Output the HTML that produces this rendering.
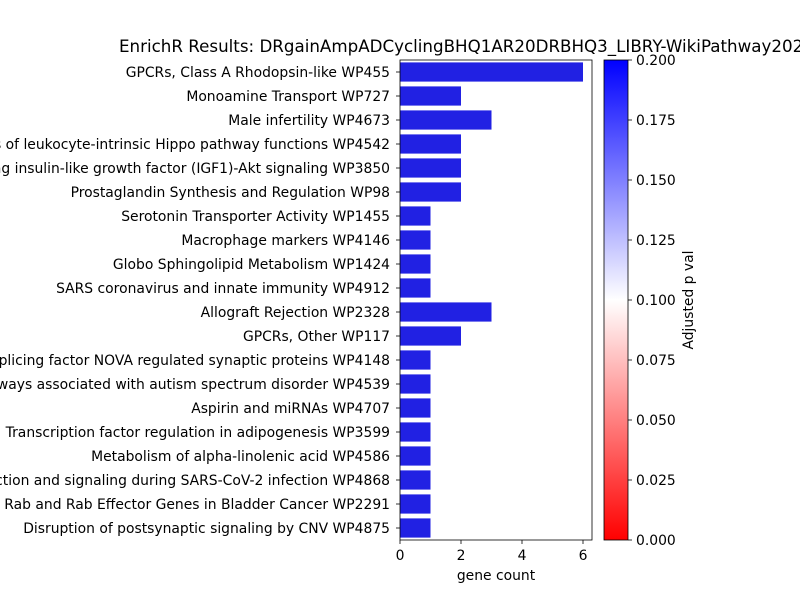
<!DOCTYPE html>
<html><head><meta charset="utf-8"><style>body{margin:0;background:#fff;overflow:hidden}svg{font-family:"DejaVu Sans","Liberation Sans",sans-serif}</style></head>
<body>
<svg id="c" width="800" height="600" viewBox="0 0 800 600">
<defs><linearGradient id="g" x1="0" y1="1" x2="0" y2="0"><stop offset="0" stop-color="#ff0000"/><stop offset="0.5" stop-color="#ffffff"/><stop offset="1" stop-color="#0000ff"/></linearGradient></defs>
<text x="119" y="52" font-size="16.7">EnrichR Results: DRgainAmpADCyclingBHQ1AR20DRBHQ3_LIBRY-WikiPathway2021</text>
<g id="bars"></g><g id="ylab"></g><g id="xt"></g>
<rect x="400" y="60" width="192" height="480" fill="none" stroke="#000" stroke-width="0.8"/>
<text x="496" y="580" font-size="13.9" text-anchor="middle">gene count</text>
<rect x="604" y="60" width="24" height="480" fill="url(#g)" stroke="#000" stroke-width="0.8"/>
<g id="ct"></g>
<text transform="translate(693,300) rotate(-90)" font-size="13.9" text-anchor="middle">Adjusted p val</text>
</svg>
<script>
const categories=["GPCRs, Class A Rhodopsin-like WP455","Monoamine Transport WP727","Male infertility WP4673","Modulators of leukocyte-intrinsic Hippo pathway functions WP4542","Regulation of signaling insulin-like growth factor (IGF1)-Akt signaling WP3850","Prostaglandin Synthesis and Regulation WP98","Serotonin Transporter Activity WP1455","Macrophage markers WP4146","Globo Sphingolipid Metabolism WP1424","SARS coronavirus and innate immunity WP4912","Allograft Rejection WP2328","GPCRs, Other WP117","Splicing factor NOVA regulated synaptic proteins WP4148","Pathways associated with autism spectrum disorder WP4539","Aspirin and miRNAs WP4707","Transcription factor regulation in adipogenesis WP3599","Metabolism of alpha-linolenic acid WP4586","Interaction and signaling during SARS-CoV-2 infection WP4868","Rab and Rab Effector Genes in Bladder Cancer WP2291","Disruption of postsynaptic signaling by CNV WP4875"];
const counts=[6,2,3,2,2,2,1,1,1,1,3,2,1,1,1,1,1,1,1,1];
const xTicks=[0,2,4,6];
const cTicks=["0.000","0.025","0.050","0.075","0.100","0.125","0.150","0.175","0.200"];
const NS="http://www.w3.org/2000/svg";
const x=v=>400+v*30.5, band=24, y=i=>60+i*band;
function mk(t,a,p){const e=document.createElementNS(NS,t);for(const k in a)e.setAttribute(k,a[k]);p.appendChild(e);return e;}
categories.forEach((c,i)=>{
 const r=mk("rect",{x:x(0),y:y(i)+2.4,width:x(counts[i])-x(0),height:band*0.8,fill:"#2121e3"},document.getElementById("bars"));
 
 
 const cy=y(i)+band/2;
 mk("line",{x1:396,x2:400,y1:cy,y2:cy,stroke:"#000","stroke-width":0.8},document.getElementById("ylab"));
 const t=mk("text",{x:390,y:cy+5,"font-size":13.9,"text-anchor":"end"},document.getElementById("ylab"));
 t.textContent=c;
 
 
});
xTicks.forEach(v=>{
 const g=document.getElementById("xt");
 mk("line",{x1:x(v),x2:x(v),y1:540,y2:544,stroke:"#000","stroke-width":0.8},g);
 const t=mk("text",{x:x(v),y:560,"font-size":13.9,"text-anchor":"middle"},g);
 t.textContent=v;
 
 
});
cTicks.forEach((s,i)=>{
 const g=document.getElementById("ct"), cy=540-i*60;
 mk("line",{x1:628,x2:632,y1:cy,y2:cy,stroke:"#000","stroke-width":0.8},g);
 const t=mk("text",{x:636,y:cy+5,"font-size":13.9},g);
 t.textContent=s;
 
 
});
</script>
</body></html>
